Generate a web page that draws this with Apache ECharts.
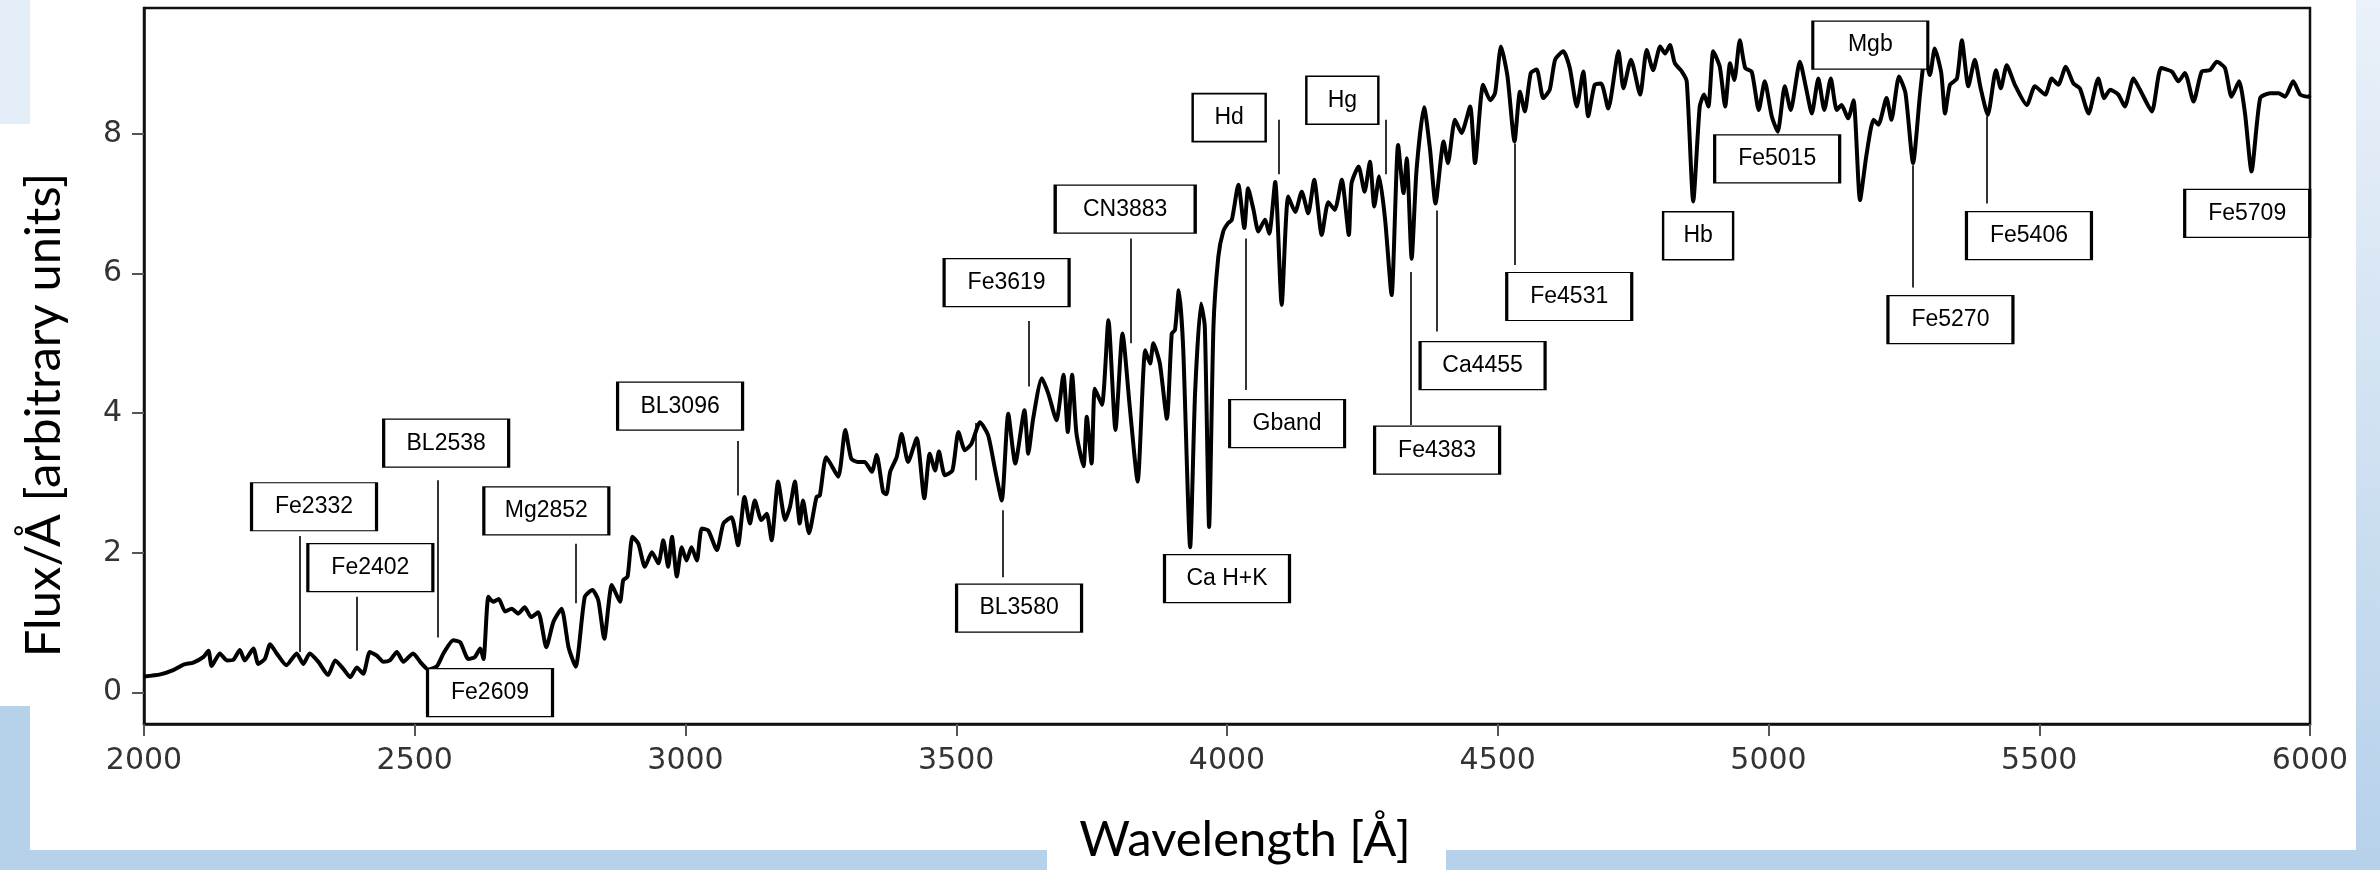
<!DOCTYPE html>
<html>
<head>
<meta charset="utf-8">
<script src="https://cdn.jsdelivr.net/npm/echarts@6/dist/echarts.min.js"></script>
<style>
  html, body { margin: 0; padding: 0; background: #fff; }
  #chart { width: 2380px; height: 870px; }
</style>
</head>
<body>
<div id="chart"></div>
<script>
/* spectrum: wavelength [Å] and flux */
var wave = [2000,2030,2054,2073,2091,2110,2119,2125,2140,2153,2165,2177,2186,2202,2211,2223,2233,2245,2263,2282,
  2294,2306,2322,2340,2353,2368,2381,2393,2405,2417,2430,2442,2454,2467,2479,2497,2510,2525,2541,2553,
  2571,2584,2599,2611,2621,2627,2636,2645,2655,2667,2679,2691,2703,2715,2728,2743,2756,2771,2784,2797,
  2814,2828,2839,2850,2864,2879,2885,2893,2902,2913,2925,2938,2950,2959,2968,2975,2984,2993,3002,3011,
  3021,3030,3042,3058,3070,3085,3097,3109,3119,3128,3140,3150,3159,3171,3184,3193,3202,3211,3217,3228,
  3242,3248,3260,3282,3295,3306,3318,3331,3344,3353,3365,3371,3378,3390,3399,3411,3427,3441,3451,3461,
  3468,3479,3493,3504,3516,3528,3544,3559,3572,3584,3596,3609,3626,3633,3642,3658,3670,3685,3698,3706,
  3714,3722,3735,3741,3750,3756,3769,3781,3794,3807,3821,3835,3849,3858,3864,3876,3889,3898,3904,3911,
  3919,3932,3941,3952,3959,3967,3975,3984,3993,4002,4009,4021,4032,4039,4049,4058,4070,4078,4089,4101,
  4113,4126,4138,4150,4161,4175,4187,4199,4212,4225,4230,4243,4254,4264,4272,4281,4292,4304,4316,4326,
  4332,4341,4350,4364,4375,4385,4400,4408,4421,4433,4449,4458,4473,4486,4495,4506,4518,4531,4541,4550,
  4561,4572,4584,4596,4606,4621,4633,4646,4658,4667,4679,4691,4704,4723,4732,4746,4763,4775,4787,4800,
  4809,4818,4827,4840,4849,4861,4873,4881,4889,4898,4910,4920,4929,4937,4947,4957,4969,4982,4993,5006,
  5017,5030,5041,5058,5070,5080,5092,5103,5115,5126,5135,5147,5157,5169,5181,5194,5203,5218,5227,5241,
  5253,5267,5280,5289,5298,5307,5319,5326,5335,5348,5357,5369,5381,5391,5405,5420,5429,5440,5455,5477,
  5492,5511,5523,5535,5549,5563,5575,5591,5609,5620,5631,5646,5658,5674,5686,5708,5725,5745,5757,5769,
  5785,5800,5815,5828,5843,5855,5869,5880,5892,5908,5926,5942,5954,5969,5982,5997,6000];
var flux = [0.23,0.26,0.32,0.40,0.43,0.51,0.60,0.38,0.56,0.46,0.47,0.61,0.46,0.63,0.41,0.48,0.69,0.56,0.39,0.56,
  0.41,0.56,0.44,0.25,0.46,0.34,0.22,0.36,0.27,0.58,0.53,0.44,0.46,0.58,0.44,0.56,0.44,0.33,0.38,0.56,
  0.75,0.72,0.48,0.51,0.63,0.48,1.37,1.30,1.34,1.16,1.20,1.13,1.22,1.08,1.15,0.65,1.01,1.20,0.65,0.37,
  1.37,1.47,1.32,0.77,1.54,1.30,1.61,1.66,2.23,2.13,1.80,2.01,1.85,2.18,1.80,2.23,1.66,2.08,1.89,2.08,
  1.89,2.35,2.32,2.04,2.42,2.51,2.11,2.80,2.42,2.75,2.47,2.56,2.18,3.02,2.47,2.66,3.02,2.42,2.75,2.28,
  2.80,2.82,3.37,3.09,3.76,3.35,3.30,3.30,3.16,3.40,2.87,2.84,3.16,3.37,3.70,3.30,3.64,2.78,3.42,3.18,
  3.45,3.11,3.18,3.73,3.47,3.56,3.87,3.68,3.18,2.75,3.99,3.28,4.04,3.42,3.92,4.50,4.28,3.90,4.55,3.73,
  4.55,3.71,3.24,3.95,3.28,4.35,4.12,5.33,3.76,5.14,4.04,3.02,4.90,4.71,5.00,4.71,3.92,5.14,5.19,5.76,
  4.95,2.08,4.28,5.57,5.24,2.37,5.24,6.24,6.60,6.72,6.77,7.27,6.65,7.22,6.91,6.60,6.77,6.57,7.31,5.55,
  7.10,6.88,7.17,6.86,7.34,6.55,7.02,6.91,7.34,6.55,7.29,7.53,7.17,7.60,6.96,7.39,6.77,5.69,7.84,7.15,
  7.65,6.21,7.48,8.38,7.77,7.00,7.89,7.58,8.20,8.01,8.39,7.58,8.70,8.48,8.58,9.25,8.82,7.89,8.60,8.32,
  8.87,8.92,8.51,8.63,9.06,9.18,8.94,8.39,8.89,8.25,8.70,8.72,8.36,9.18,8.65,9.06,8.56,9.20,8.91,9.25,
  9.15,9.27,9.01,8.89,8.75,7.03,8.39,8.56,8.39,9.18,8.96,8.39,9.01,8.77,9.34,8.94,8.89,8.34,8.75,8.25,
  8.03,8.68,8.34,9.03,8.63,8.29,8.79,8.34,8.79,8.34,8.41,8.22,8.48,7.05,7.70,8.20,8.13,8.51,8.20,8.82,
  8.58,7.58,8.58,9.10,8.84,9.22,8.87,8.29,8.70,8.79,9.34,8.68,9.06,8.68,8.27,8.91,8.65,8.98,8.70,8.41,
  8.68,8.56,8.79,8.70,8.96,8.72,8.65,8.29,8.79,8.51,8.63,8.56,8.39,8.79,8.63,8.32,8.94,8.89,8.75,8.87,
  8.46,8.89,8.91,9.03,8.94,8.53,8.75,8.29,7.46,8.51,8.58,8.58,8.53,8.75,8.56,8.53,8.55];

var xTicks = [2000, 2500, 3000, 3500, 4000, 4500, 5000, 5500, 6000];
var yTicks = [0, 2, 4, 6, 8];

/* index names and where their boxes sit (data coords) */
var lineNames = ['Fe2332','Fe2402','BL2538','Mg2852','Fe2609','BL3096','BL3580','Fe3619','CN3883','Ca H+K','Hd',
  'Gband','Hg','Fe4383','Ca4455','Fe4531','Hb','Fe5015','Mgb','Fe5270','Fe5406','Fe5709'];
var boxWave = [2314,2418,2558,2743,2639,2990,3616,3593,3812,4000,4004,4111,4213,4388,4472,4632,4870,5016,5188,5336,5481,5884];
var boxFlux = [2.66,1.79,3.57,2.60,0.00,4.10,1.21,5.87,6.92,1.63,8.23,3.85,8.48,3.47,4.68,5.67,6.54,7.64,9.27,5.34,6.54,6.86];

/* leader lines: wavelength, flux top, flux bottom */
var tickWave = [2287,2393,2543,2797,3096,3586,3536,3633,3823,4096,4035,4293,4339,4388,4531,5266,5403];
var tickTop  = [2.24,1.37,3.04,2.13,3.60,2.61,3.86,5.32,6.50,8.20,6.50,8.20,6.02,6.90,7.86,7.55,8.25];
var tickBot  = [0.58,0.60,0.79,1.28,2.82,1.65,3.04,4.38,5.00,7.42,4.33,7.42,3.83,5.17,6.12,5.80,7.00];

var chart = echarts.init(document.getElementById('chart'));

var boxWidth = {'CN3883': 140, 'Hd': 73, 'Hg': 72, 'Hb': 70, 'Gband': 115, 'Mgb': 115};
var boxes = lineNames.map(function (n, i) {
    return {
        value: [boxWave[i], boxFlux[i]],
        name: n,
        symbolSize: [boxWidth[n] || 125, 48]
    };
});
var ticks = tickWave.map(function (w, i) {
    return {coords: [[w, tickTop[i]], [w, tickBot[i]]]};
});

var blue = '#b6d1ea';
chart.setOption({
    animation: false,
    backgroundColor: '#fff',
    grid: {
        left: 144, right: 70, top: 8, bottom: 146,
        show: true, borderColor: '#111', borderWidth: 2.5
    },
    xAxis: {
        type: 'value', min: 2000, max: 6000, interval: 500,
        axisLine: {show: true, onZero: false, lineStyle: {color: '#111', width: 2.5}},
        axisTick: {show: true, length: 12, lineStyle: {color: '#555', width: 2}},
        axisLabel: {
            fontFamily: 'DejaVu Sans', fontSize: 30, color: '#333', margin: 22,
            customValues: xTicks,
            formatter: function (v) { return String(v); }
        },
        splitLine: {show: false}
    },
    yAxis: {
        type: 'value', min: -0.45, max: 9.8,
        axisLine: {show: true, onZero: false, lineStyle: {color: '#111', width: 2.5}},
        axisTick: {show: true, length: 12, lineStyle: {color: '#555', width: 2}, customValues: yTicks},
        axisLabel: {
            fontFamily: 'DejaVu Sans', fontSize: 30, color: '#333', margin: 22,
            customValues: yTicks,
            formatter: function (v) { return String(v); }
        },
        splitLine: {show: false}
    },
    graphic: [
        {type: 'rect', shape: {x: 0, y: 0, width: 30, height: 124}, style: {fill: '#e3edf7'}, z: -1},
        {type: 'rect', shape: {x: 0, y: 706, width: 30, height: 164}, style: {fill: blue}, z: -1},
        {type: 'rect', shape: {x: 0, y: 850, width: 1047, height: 20}, style: {fill: blue}, z: -1},
        {type: 'rect', shape: {x: 1446, y: 850, width: 934, height: 20}, style: {fill: blue}, z: -1},
        {type: 'rect', shape: {x: 2356, y: 0, width: 24, height: 870}, z: -1,
            style: {fill: new echarts.graphic.LinearGradient(0, 0, 0, 1, [
                {offset: 0, color: '#eaf1f9'}, {offset: 1, color: blue}])}},
        {type: 'text', x: 1245, y: 840,
            style: {text: 'Wavelength [Å]', font: '49px Lato', fill: '#000',
                textAlign: 'center', textVerticalAlign: 'middle'}},
        {type: 'text', x: 44, y: 415, rotation: Math.PI / 2,
            style: {text: 'Flux/Å [arbitrary units]', font: '49px Lato', fill: '#000',
                textAlign: 'center', textVerticalAlign: 'middle'}}
    ],
    series: [
        {
            type: 'line',
            data: wave.map(function (w, i) { return [w, flux[i]]; }),
            showSymbol: false,
            smooth: 0.2,
            lineStyle: {color: '#000', width: 4},
            z: 2
        },
        {
            type: 'lines',
            coordinateSystem: 'cartesian2d',
            data: ticks,
            lineStyle: {color: '#000', width: 1.6, opacity: 1},
            z: 3
        },
        {
            type: 'scatter',
            data: boxes,
            symbol: 'rect',
            itemStyle: {color: '#fff', borderColor: '#000', borderWidth: 2, opacity: 1},
            label: {
                show: true, position: 'inside', formatter: '{b}',
                fontFamily: 'Liberation Sans, Arial', fontSize: 23, color: '#000'
            },
            emphasis: {disabled: true},
            z: 4
        }
    ]
});
</script>
</body>
</html>
